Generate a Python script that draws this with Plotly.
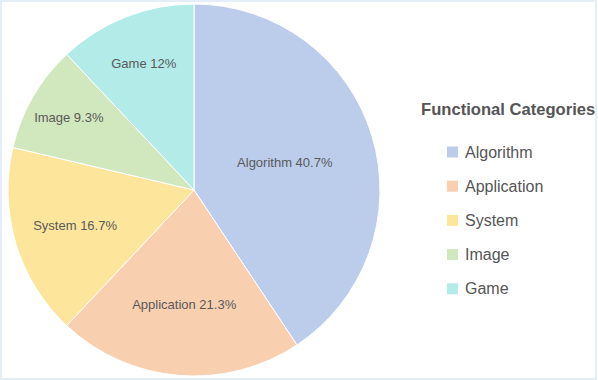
import plotly.graph_objects as go

labels = ["Algorithm", "Application", "System", "Image", "Game"]
counts = [61, 32, 25, 14, 18]
colors = ["#bccdeb", "#f8d0b0", "#fde59c", "#d1e7bd", "#b2ebe8"]
legend_title = "Functional Categories"

W, H = 598, 380
FONT = "Liberation Sans, Arial, sans-serif"

fig = go.Figure()
fig.add_trace(go.Pie(
    labels=labels,
    values=counts,
    sort=False,
    direction="clockwise",
    rotation=0,
    marker=dict(colors=colors, line=dict(color="white", width=1)),
    texttemplate="%{label} %{percent:.1~%}",
    textposition="inside",
    insidetextorientation="horizontal",
    textfont=dict(family=FONT, size=13, color="#595959"),
    domain=dict(x=[8 / W, 380 / W], y=[4 / H, 1 - 4 / H]),
    showlegend=False,
    hoverinfo="label+percent",
))

annotations = [dict(
    x=508 / W, y=1 - 109 / H, xref="paper", yref="paper",
    text="<b>" + legend_title + "</b>", showarrow=False,
    xanchor="center", yanchor="middle",
    font=dict(family=FONT, size=16.6, color="#555555"),
)]
shapes = [dict(
    type="rect", xref="paper", yref="paper",
    x0=1 / W, x1=1 - 2 / W, y0=1 / H, y1=1 - 1 / H,
    line=dict(color="#e4eef9", width=2), fillcolor="rgba(0,0,0,0)",
)]
item_top = 152
item_step = 34.2
for i, (lab, col) in enumerate(zip(labels, colors)):
    yc = item_top + i * item_step
    shapes.append(dict(
        type="rect", xref="paper", yref="paper",
        x0=447 / W, x1=458 / W, y0=1 - (yc + 5.5) / H, y1=1 - (yc - 5.5) / H,
        line=dict(width=0), fillcolor=col,
    ))
    annotations.append(dict(
        x=463 / W, y=1 - yc / H, xref="paper", yref="paper",
        text=lab, showarrow=False, xanchor="left", yanchor="middle",
        font=dict(family=FONT, size=16, color="#555555"),
    ))

fig.update_layout(
    width=W, height=H,
    margin=dict(l=0, r=0, t=0, b=0),
    paper_bgcolor="white",
    plot_bgcolor="white",
    font=dict(family=FONT, color="#555555"),
    annotations=annotations,
    shapes=shapes,
    showlegend=False,
)

fig.write_html(
    "out.html",
    config={"displayModeBar": False},
    post_script="document.body.style.margin='0';document.body.style.overflow='hidden';",
)
